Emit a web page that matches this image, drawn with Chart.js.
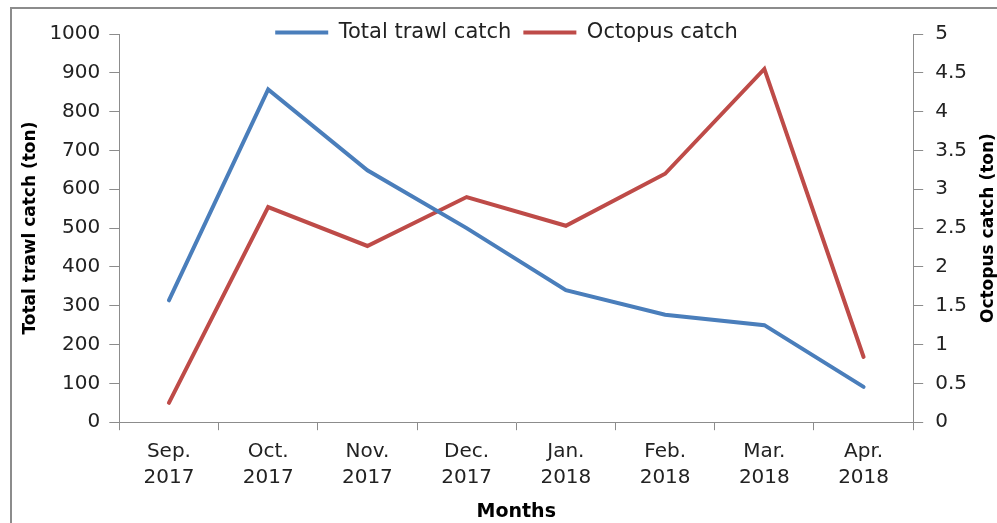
<!DOCTYPE html>
<html>
<head>
<meta charset="utf-8">
<script src="https://cdn.jsdelivr.net/npm/chart.js@4.4.1/dist/chart.umd.min.js"></script>
<style>
  body { margin: 0; background: #fff; }
  #wrap { position: relative; width: 997px; height: 523px; overflow: hidden; }
  #frame { position: absolute; left: 10px; top: 7px; width: 1000px; height: 530px; border: 2px solid #8c8c8c; }
  canvas { position: absolute; left: 0; top: 0; }
</style>
</head>
<body>
<div id="wrap">
  <div id="frame"></div>
  <canvas id="catchChart" width="997" height="523"></canvas>
</div>
<script>
// chart data
const months = [
    ['Sep.', '2017'], ['Oct.', '2017'], ['Nov.', '2017'], ['Dec.', '2017'],
    ['Jan.', '2018'], ['Feb.', '2018'], ['Mar.', '2018'], ['Apr.', '2018']
];
const totalTrawlCatch = [314, 857, 649, 500, 340, 277, 250, 91];
const octopusCatch = [0.25, 2.77, 2.27, 2.90, 2.53, 3.20, 4.55, 0.84];

const axisGray = '#8c8c8c';
const tickFont = { family: 'DejaVu Sans', size: 20, lineHeight: 1.3 };

// legend sits over the plot top: give it little layout height, draw it unclipped and a bit to the right
const legendShrink = {
    id: 'legendShrink',
    beforeUpdate(chart) {
        const legend = chart.legend;
        if (!legend || legend._shrunk) return;
        const fit = legend.fit;
        const draw = legend.draw;
        legend.fit = function () { fit.call(this); this.height = 24; };
        legend.draw = function () {
            const b = this.bottom;
            this.bottom = b + 20;
            this.ctx.save();
            this.ctx.translate(12, 0);
            draw.call(this);
            this.ctx.restore();
            this.bottom = b;
        };
        legend._shrunk = true;
    }
};

// right title reads bottom-to-top like the left one
const rightTitle = {
    id: 'rightTitle',
    afterDraw(chart) {
        const { ctx, chartArea } = chart;
        const x = chart.scales.y1.right + 10;
        ctx.save();
        ctx.translate(x, (chartArea.top + chartArea.bottom) / 2);
        ctx.rotate(-Math.PI / 2);
        ctx.font = 'bold 17px "DejaVu Sans"';
        ctx.fillStyle = '#000';
        ctx.textAlign = 'center';
        ctx.textBaseline = 'middle';
        ctx.fillText('Octopus catch (ton)', 0, 0);
        ctx.restore();
    }
};

const ctx = document.getElementById('catchChart').getContext('2d');
new Chart(ctx, {
    type: 'line',
    data: {
        labels: months,
        datasets: [
            {
                label: 'Total trawl catch',
                data: totalTrawlCatch,
                yAxisID: 'y',
                borderColor: '#4a7ebb',
                backgroundColor: '#4a7ebb',
                borderWidth: 4,
                borderCapStyle: 'round',
                pointRadius: 0,
                tension: 0
            },
            {
                label: 'Octopus catch',
                data: octopusCatch,
                yAxisID: 'y1',
                borderColor: '#be4b48',
                backgroundColor: '#be4b48',
                borderWidth: 4,
                borderCapStyle: 'round',
                pointRadius: 0,
                tension: 0
            }
        ]
    },
    options: {
        responsive: false,
        animation: false,
        layout: { padding: { left: 10, right: 18, top: 10, bottom: 0 } },
        plugins: {
            legend: {
                position: 'top',
                labels: {
                    usePointStyle: true,
                    pointStyle: 'line',
                    pointStyleWidth: 53,
                    padding: 12,
                    color: '#222',
                    font: { family: 'DejaVu Sans', size: 21 }
                }
            },
            tooltip: { enabled: false }
        },
        scales: {
            x: {
                offset: true,
                grid: { offset: true, drawOnChartArea: false, tickLength: 8, color: axisGray },
                border: { color: axisGray },
                ticks: { color: '#222', font: tickFont, padding: 9, maxRotation: 0 },
                title: {
                    display: true,
                    text: 'Months',
                    color: '#000',
                    font: { family: 'DejaVu Sans', size: 19, weight: 'bold' },
                    padding: { top: 0, bottom: 0 }
                }
            },
            y: {
                position: 'left',
                min: 0,
                max: 1000,
                grid: { drawOnChartArea: false, tickLength: 10, color: axisGray },
                border: { color: axisGray },
                ticks: { stepSize: 100, color: '#222', font: tickFont, padding: 9, callback: v => String(v) },
                title: {
                    display: true,
                    text: 'Total trawl catch (ton)',
                    color: '#000',
                    font: { family: 'DejaVu Sans', size: 17, weight: 'bold' },
                    padding: { top: 10, bottom: 0 }
                }
            },
            y1: {
                position: 'right',
                min: 0,
                max: 5,
                grid: { drawOnChartArea: false, tickLength: 10, color: axisGray },
                border: { color: axisGray },
                ticks: { stepSize: 0.5, color: '#222', font: tickFont, padding: 12, callback: v => String(v) }
            }
        }
    },
    plugins: [legendShrink, rightTitle]
});
</script>
</body>
</html>
